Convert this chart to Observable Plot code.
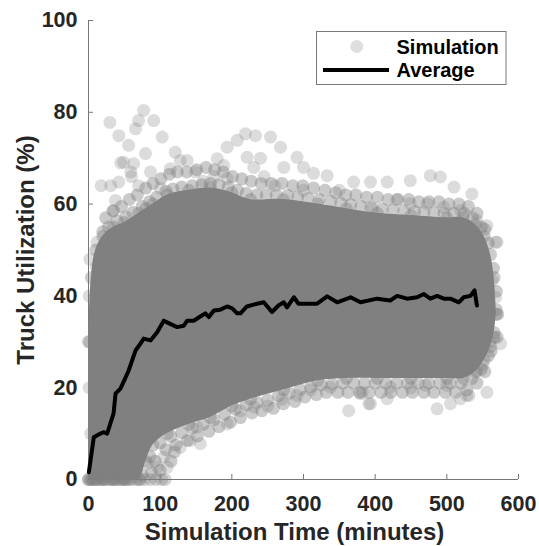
<!DOCTYPE html>
<html>
<head>
<meta charset="utf-8">
<script src="https://cdn.jsdelivr.net/npm/d3@7"></script>
<script src="https://cdn.jsdelivr.net/npm/@observablehq/plot@0.6"></script>
<style>
  html, body { margin: 0; padding: 0; background: #fff; }
  #chart { width: 539px; height: 546px; }
</style>
</head>
<body>
<div id="chart"></div>
<script>
// ---- tick labels ----
const xTicks = [0, 100, 200, 300, 400, 500, 600];
const yTicks = [0, 20, 40, 60, 80, 100];

// ---- dense core of the simulation cloud ----
const coreTime = [0, 4, 10, 20, 35, 50, 70, 80, 90, 110, 140, 170, 200, 226, 272, 320, 360, 403, 450, 500, 523, 540, 552, 561, 566, 569];
const coreLow  = [0, 0, 0, 0, 0, 0, 0, 4, 7.5, 10, 12, 13.5, 16, 17.5, 19.5, 21.5, 22, 22, 22, 22, 22, 23.5, 26, 29, 32, 36];
const coreHigh = [30, 44, 50, 53, 55, 56, 58, 59, 60, 62, 63, 63.5, 62.5, 61, 61, 60, 59, 58, 57.5, 57, 57, 55.5, 53, 49, 44, 37];

// ---- isolated simulation points outside the dense core ----
const outlierTime = [29.8, 77, 70, 65.6, 91, 102.8, 42.3, 56, 49, 79.5, 63, 121, 128, 137.7, 86.5, 114, 17.7, 42.3, 149, 179.6,
  193.5, 207.5, 219, 233, 221.4, 230.7, 188.8, 37.7, 35.3, 12, 11, 100.5, 193.5, 268, 291, 314, 333, 370, 393.5, 416.8,
  449, 477, 491, 510, 535, 254, 272.5, 300, 449, 472.6, 495.8, 519, 542, 556, 570, 393.5, 568, 563, 568,
  60, 70, 160, 175, 245, 260, 240, 300, 350, 430, 31, 45, 59,
  575, 556, 531, 505, 486.5, 519, 393.5, 363, 379.5, 421.4, 391, 382, 416.7, 528, 542, 337.7, 291, 156, 142, 128, 105, 96,
  82, 110, 193.5, 212, 231, 151.7, 250, 270, 310, 450, 470, 500, 550, 560, 2, 1, 2, 1, 3];
const outlierUtil = [77.8, 80.4, 78.2, 76.4, 78.2, 74.6, 74.9, 72.8, 69.1, 71, 68.8, 71.3, 69.5, 69.5, 67, 67.7, 64, 64.8, 67, 69.9,
  72.4, 73.9, 75.3, 74.9, 70.2, 68, 68.4, 60.8, 58.6, 51.7, 46.3, 63.4, 65.6, 72.4, 70.2, 66.7, 66.2, 64.8, 64.8, 64.8,
  65.1, 66.2, 65.9, 63.7, 62.2, 74.6, 68, 68, 60.1, 60.1, 59.3, 58.6, 56.4, 55.3, 51.7, 59.3, 51.7, 43.4, 39.7,
  66, 64, 65, 66, 66, 64, 70, 63, 63, 61, 64, 69, 67,
  29.6, 19, 18.3, 16.5, 15.4, 17.6, 16.5, 15, 18.7, 20.1, 16.5, 19, 17.6, 18.3, 23.7, 20.1, 18.3, 7.8, 8.5, 7, 4.9, 2.7,
  3.5, 2.7, 12.1, 15, 15.8, 11.4, 16, 17.5, 19.5, 20, 20.5, 20.5, 25, 30, 48, 40, 30, 20, 10];

// ---- crowded points hugging the upper edge of the core (two rows) ----
const upperFringeTime = [20, 28, 40, 52, 62, 75, 85, 95, 108, 118, 130, 145, 158, 170, 182, 195, 208, 220, 235, 248,
  262, 278, 292, 306, 322, 338, 352, 366, 380, 396, 410, 425, 440, 455, 468, 482, 496, 510, 524, 536,
  548, 558, 565, 569, 571, 570,
  24, 34, 46, 57, 68, 80, 90, 101, 113, 124, 137, 151, 164, 176, 188, 201, 214, 227, 241, 255,
  270, 285, 299, 314, 330, 345, 359, 373, 388, 403, 418, 432, 447, 461, 475, 489, 503, 517, 530, 542, 553];
const upperFringeUtil = [54, 55, 56.3, 57.2, 58.2, 59.5, 60.5, 61.5, 62.8, 63.3, 63.7, 64, 64.2, 64.5, 64.2, 63.7, 63, 62.3, 62, 62,
  62, 61.9, 61.6, 61.3, 61, 60.6, 60.2, 59.9, 59.5, 59.1, 58.9, 58.7, 58.6, 58.4, 58.2, 58.1, 58, 58, 58, 57,
  55, 51.5, 46, 41, 36, 31,
  57, 58.5, 59.5, 61, 62, 63.5, 64.5, 65.5, 66.5, 67, 67, 67.5, 68, 67.5, 67, 66, 65.5, 65, 64.5, 64.5,
  64.5, 64, 64, 63.5, 63, 62.5, 62, 62, 61.5, 61.5, 61, 61, 61, 60.5, 60.5, 60.5, 60, 60, 59.5, 58, 54.5];

// ---- crowded points hugging the lower edge of the core (two rows) ----
const lowerFringeTime = [86, 100, 115, 130, 145, 160, 175, 190, 205, 220, 235, 250, 265, 280, 295, 310, 325, 340, 355, 370,
  385, 400, 415, 430, 445, 460, 475, 490, 505, 520, 535, 548, 558, 566,
  93, 108, 122, 138, 152, 168, 182, 198, 212, 228, 242, 258, 272, 288, 302, 318, 332, 348, 362, 378,
  392, 408, 422, 438, 452, 468, 482, 498, 512, 528, 542, 553, 562,
  65, 75, 88, 100, 115, 120];
const lowerFringeUtil = [5, 8, 9.4, 10.2, 11.2, 12, 13, 14.2, 15.3, 16.2, 16.8, 17.3, 18.2, 18.8, 19.6, 20.2, 20.6, 20.8, 21, 21,
  21, 21, 21, 21, 21, 21, 21, 21, 21, 21, 22, 24, 27, 31,
  4, 6.5, 7.5, 8.5, 9.5, 10.5, 11.5, 12.5, 13.5, 14.5, 15, 15.5, 16.5, 17, 18, 18.5, 19, 19, 19, 19,
  19, 19, 19, 19, 19, 19, 19, 19, 19, 19.5, 21, 23.5, 28,
  2, 1, 1.5, 2, 4, 6];

// ---- zero-utilization runs along the time axis ----
const zeroTime = [0, 3, 6, 9, 12, 15, 18, 21, 24, 27, 30, 33, 36, 39, 42, 45, 48, 51, 54, 57, 60, 66, 72, 78, 86, 94, 102, 107];
const zeroUtil = [0, 0, 0, 0, 0, 0, 0, 0, 0, 0, 0, 0, 0, 0, 0, 0, 0, 0, 0, 0, 0, 0, 0, 0, 0, 0, 0, 0];

// ---- average line ----
const avgTime = [0.5, 7.4, 16.7, 21, 26, 35, 37.7, 44.6, 56, 65.6, 72.5, 77, 86.5, 95.8, 105, 114, 123.7, 133, 137.7, 146.8,
  156, 163, 168, 175, 184, 193.5, 200.5, 207.5, 212, 221, 235, 244.6, 256, 265, 272.5, 277, 286.5, 293, 319, 333,
  347, 365.6, 379.5, 402.8, 421, 430.7, 444.6, 458.6, 468, 477, 486.5, 495.8, 505, 516.7, 523.7, 533, 538.6, 542];
const avgUtil = [1.6, 9.2, 10, 10.3, 10, 14.4, 18.7, 19.8, 23.7, 28.1, 29.6, 30.7, 30.3, 32.1, 34.6, 33.9, 33.2, 33.5, 34.6, 34.6,
  35.5, 36.2, 35.4, 36.8, 37, 37.7, 37.3, 36.2, 36.2, 37.7, 38.3, 38.6, 36.5, 37.9, 38.6, 37.5, 39.7, 38.3, 38.3, 39.9,
  38.6, 39.7, 38.6, 39.4, 39, 40, 39.4, 39.7, 40.4, 39.4, 40, 39.4, 39.4, 38.6, 39.7, 40, 41.2, 37.9];

const xLabel = "Simulation Time (minutes)";
const yLabel = "Truck Utilization (%)";
const legendItems = ["Simulation", "Average"];

// ---- build tables ----
const core = coreTime.map((t, i) => ({t, lo: coreLow[i], hi: coreHigh[i]}));
const edgeDots = core.flatMap(d => [{t: d.t, u: d.lo}, {t: d.t, u: d.hi}]);
const outliers = outlierTime.map((t, i) => ({t, u: outlierUtil[i]}));
const fringe = upperFringeTime.map((t, i) => ({t, u: upperFringeUtil[i]}))
  .concat(lowerFringeTime.map((t, i) => ({t, u: lowerFringeUtil[i]})));
const zeros = zeroTime.map((t, i) => ({t, u: zeroUtil[i]}));
const avg = avgTime.map((t, i) => ({t, u: avgUtil[i]}));

const FONT = "'Liberation Sans', Arial, Helvetica, sans-serif";
const GRAY = "#808080";
const AXIS = "#777777";
const TEXT = "#262626";

const svg = Plot.plot({
  width: 539,
  height: 546,
  marginLeft: 88,
  marginRight: 21,
  marginTop: 20,
  marginBottom: 67,
  style: {fontFamily: FONT, background: "#fff", overflow: "visible"},
  x: {domain: [0, 600]},
  y: {domain: [0, 100]},
  marks: [
    Plot.ruleX([0], {stroke: AXIS, strokeWidth: 1}),
    Plot.ruleY([0], {stroke: AXIS, strokeWidth: 1}),
    Plot.tickX(xTicks, {x: d => d, stroke: AXIS, insetTop: 454}),
    Plot.tickY(yTicks, {y: d => d, stroke: AXIS, insetRight: 425}),
    Plot.areaY(core, {x: "t", y1: "lo", y2: "hi", fill: GRAY, curve: "catmull-rom"}),
    Plot.dot(edgeDots, {x: "t", y: "u", r: 6.5, fill: GRAY, fillOpacity: 0.4}),
    Plot.dot(fringe, {x: "t", y: "u", r: 6.5, fill: GRAY, fillOpacity: 0.42}),
    Plot.dot(outliers, {x: "t", y: "u", r: 6.5, fill: GRAY, fillOpacity: 0.28}),
    Plot.dot(zeros, {x: "t", y: "u", r: 6.5, fill: GRAY, fillOpacity: 0.35}),
    Plot.line(avg, {x: "t", y: "u", stroke: "#000", strokeWidth: 4, strokeLinejoin: "round"}),
    Plot.axisX({ticks: xTicks, tickSize: 0, tickPadding: 16, fontSize: 21.5, fontWeight: "bold", color: TEXT, label: null}),
    Plot.axisY({ticks: yTicks, tickSize: 0, tickPadding: 11, fontSize: 21.5, fontWeight: "bold", color: TEXT, label: null}),
    Plot.text([xLabel], {frameAnchor: "bottom", dy: 60, dx: -9, lineAnchor: "bottom", textAnchor: "middle",
      fontSize: 24, fontWeight: "bold", fill: TEXT}),
    Plot.text([yLabel], {frameAnchor: "left", rotate: -90, dx: -55, lineAnchor: "bottom", textAnchor: "middle",
      fontSize: 24, fontWeight: "bold", fill: TEXT})
  ]
});

// ---- legend box (drawn into the same svg) ----
const s = d3.select(svg);
const lg = s.append("g").attr("font-family", FONT).attr("text-anchor", "start");
lg.append("rect").attr("x", 316.5).attr("y", 31.5).attr("width", 189.5).attr("height", 53)
  .attr("fill", "#fff").attr("stroke", "#7a7a7a").attr("stroke-width", 1);
lg.append("circle").attr("cx", 356.7).attr("cy", 46.5).attr("r", 6.5).attr("fill", GRAY).attr("fill-opacity", 0.25);
lg.append("line").attr("x1", 323).attr("x2", 389).attr("y1", 70).attr("y2", 70)
  .attr("stroke", "#000").attr("stroke-width", 4);
lg.append("text").attr("x", 396.5).attr("y", 53.5).attr("font-size", 20).attr("font-weight", "bold")
  .attr("text-anchor", "start").attr("fill", "#000").text(legendItems[0]);
lg.append("text").attr("x", 396.5).attr("y", 76.5).attr("font-size", 20).attr("font-weight", "bold")
  .attr("text-anchor", "start").attr("fill", "#000").text(legendItems[1]);

document.getElementById("chart").appendChild(svg);
</script>
</body>
</html>
